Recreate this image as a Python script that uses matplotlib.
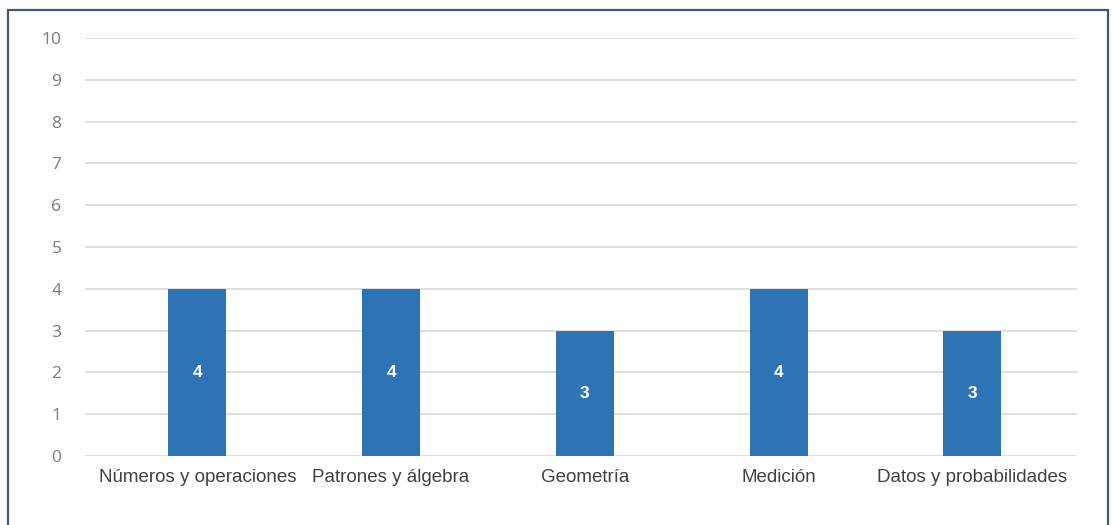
import matplotlib
matplotlib.use('Agg')
from matplotlib import pyplot as plt
from matplotlib.patches import Rectangle
import numpy as np

categories = ['Números y operaciones', 'Patrones y álgebra', 'Geometría', 'Medición', 'Datos y probabilidades']
values = [4, 4, 3, 4, 3]
y_ticks = list(range(0, 11))

W, H = 1112, 525
fig = plt.figure(figsize=(W / 100, H / 100), dpi=100)
fig.patch.set_facecolor('white')

# outer border of the chart frame
fig.patches.append(Rectangle((8 / W, -0.05), 1100 / W, 1 - 10 / H + 0.05,
                             transform=fig.transFigure, fill=False,
                             edgecolor='#3c5a78', linewidth=1.6))

ax = fig.add_axes([85 / W, 1 - 456 / H, (1077 - 85) / W, (456 - 38) / H])
x = np.arange(len(categories))
bars = ax.bar(x, values, width=0.3, color='#2e74b5', zorder=3)

for b, v in zip(bars, values):
    ax.text(b.get_x() + b.get_width() / 2, v / 2, str(v), ha='center', va='center',
            color='white', fontsize=12.5, fontweight='bold', family='Liberation Sans', zorder=4)

ax.set_xlim(-0.58, 4.54)
ax.set_ylim(0, 10)
ax.set_yticks(y_ticks)
ax.set_xticks(x)
ax.set_xticklabels(categories, fontsize=13.5, color='#404040', family='Liberation Sans')
for lbl in ax.get_yticklabels():
    lbl.set_family('Open Sans')
    lbl.set_fontsize(12.5)
    lbl.set_color('#7a7a7a')

ax.grid(axis='y', color='#d9d9d9', linewidth=1.2, zorder=0)
ax.tick_params(axis='both', length=0)
ax.tick_params(axis='y', pad=17)
ax.tick_params(axis='x', pad=9)
for s in ax.spines.values():
    s.set_visible(False)

plt.savefig('out.png', dpi=100)
